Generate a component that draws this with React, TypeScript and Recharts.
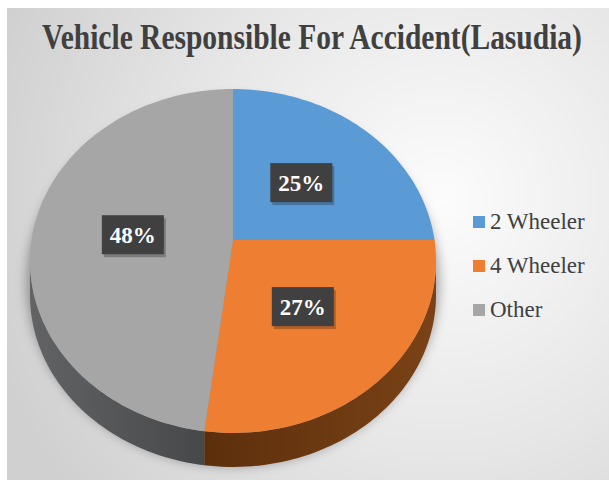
import React from 'react';
import { PieChart, Pie, Cell, Legend } from 'recharts';

const TITLE = 'Vehicle Responsible For Accident(Lasudia)';
const CATEGORIES = ['2 Wheeler', '4 Wheeler', 'Other'];
const VALUES = [25, 27, 48];
const COLORS = ['#5b9bd5', '#ee7e32', '#a6a6a6'];
const SIDE_FROM = ['#3a6f9f', '#7a4216', '#626365'];
const SIDE_TO = ['#2a5580', '#5c2f0c', '#47484a'];

const data = CATEGORIES.map((name, i) => ({ name, value: VALUES[i] }));

const RY = 0.847; // vertical squash of the tilted pie
const T = 0.122; // perspective shift of the centre
const DEPTH = 34;
const SERIF = "'Liberation Serif', 'Times New Roman', serif";

function project(cx: number, cy: number, R: number, angDeg: number, frac: number) {
  const a = (angDeg * Math.PI) / 180;
  const c = frac * Math.cos(a);
  const s = frac * Math.sin(a);
  const d = 1 + T * s;
  const u = (c * Math.sqrt(1 - T * T)) / d;
  const v = (s + T) / d;
  return { x: cx + R * u, y: cy - R * RY * v, v };
}

const PieShape = (props: any) => {
  const { cx, cy, outerRadius, startAngle, endAngle, index } = props;
  const i = index ?? 0;
  const N = Math.max(8, Math.ceil(Math.abs(endAngle - startAngle) / 1.5));
  const pts: { x: number; y: number; v: number }[] = [];
  for (let k = 0; k <= N; k++) {
    const ang = startAngle + ((endAngle - startAngle) * k) / N;
    pts.push(project(cx, cy, outerRadius, ang, 1));
  }
  const c0 = project(cx, cy, outerRadius, 0, 0);
  const top = `M${c0.x},${c0.y} ` + pts.map((p) => `L${p.x},${p.y}`).join(' ') + ' Z';
  const runs: { x: number; y: number; v: number }[][] = [];
  let cur: { x: number; y: number; v: number }[] = [];
  pts.forEach((p) => {
    if (p.v <= 0.01) cur.push(p);
    else if (cur.length) {
      runs.push(cur);
      cur = [];
    }
  });
  if (cur.length) runs.push(cur);
  const sides = runs
    .filter((r) => r.length > 1)
    .map((r) => {
      const fwd = r.map((p, k) => `${k === 0 ? 'M' : 'L'}${p.x},${p.y}`).join(' ');
      const back = r
        .slice()
        .reverse()
        .map((p) => `L${p.x},${p.y + DEPTH}`)
        .join(' ');
      return fwd + ' ' + back + ' Z';
    });
  const gid = `side-grad-${i}`;
  return (
    <g>
      <defs>
        <linearGradient id={gid} x1="0" y1="0" x2="1" y2="0">
          <stop offset="0%" stopColor={i === 2 ? SIDE_FROM[i] : SIDE_TO[i]} />
          <stop offset="100%" stopColor={i === 2 ? SIDE_TO[i] : SIDE_FROM[i]} />
        </linearGradient>
      </defs>
      {sides.map((d, k) => (
        <path key={k} d={d} fill={`url(#${gid})`} stroke="none" />
      ))}
      <path d={top} fill={COLORS[i]} stroke="none" />
    </g>
  );
};

const renderLabel = (props: any) => {
  const { cx, cy, midAngle, outerRadius, percent } = props;
  const p = project(cx, cy, outerRadius, midAngle, 0.5);
  const w = 62;
  const h = 39;
  return (
    <g>
      <rect x={p.x - w / 2 + 2} y={p.y - h / 2 + 3} width={w} height={h} fill="rgba(0,0,0,0.25)" />
      <rect x={p.x - w / 2} y={p.y - h / 2} width={w} height={h} fill="#404040" />
      <text
        x={p.x}
        y={p.y + 8}
        textAnchor="middle"
        fill="#ffffff"
        fontFamily="Liberation Serif"
        fontWeight="bold"
        fontSize={23}
        style={{ fontFamily: 'Liberation Serif', fontWeight: 'bold', fontSize: 23 }}
      >
        {Math.round(percent * 100) + '%'}
      </text>
    </g>
  );
};

const renderLegend = (props: any) => {
  const { payload } = props;
  return (
    <div style={{ fontFamily: SERIF }}>
      {(payload || []).map((e: any, k: number) => (
        <div key={k} style={{ display: 'flex', alignItems: 'center', height: 44 }}>
          <div style={{ width: 12, height: 12, background: COLORS[k], marginRight: 5, flex: 'none' }} />
          <span style={{ fontSize: 23, color: '#404040', whiteSpace: 'nowrap' }}>{e.value}</span>
        </div>
      ))}
    </div>
  );
};

export default function App() {
  return (
    <div style={{ position: 'absolute', left: 0, top: 0, width: 609, height: 492, background: '#ffffff' }}>
      <svg width={609} height={492} style={{ position: 'absolute', left: 0, top: 0 }}>
        <defs>
          <radialGradient id="bg" gradientUnits="userSpaceOnUse" cx="440" cy="200" r="470">
            <stop offset="0%" stopColor="#fcfcfc" />
            <stop offset="55%" stopColor="#e6e6e6" />
            <stop offset="100%" stopColor="#d0d0d0" />
          </radialGradient>
          <filter id="blur" x="-20%" y="-20%" width="140%" height="140%">
            <feGaussianBlur stdDeviation="6" />
          </filter>
        </defs>
        <rect x={7} y={8} width={602} height={472} fill="url(#bg)" />
        <g transform="translate(312,49) scale(1,1.22)">
          <text
            x={0}
            y={0}
            textAnchor="middle"
            style={{ fontFamily: SERIF, fontWeight: 'bold', fontSize: 29.5 }}
            fill="#404040"
          >
            {TITLE}
          </text>
        </g>
        <ellipse cx={233} cy={282} rx={206} ry={184} fill="rgba(0,0,0,0.35)" filter="url(#blur)" />
      </svg>
      <div style={{ position: 'absolute', left: 0, top: 0 }}>
        <PieChart width={609} height={492} margin={{ top: 0, right: 0, bottom: 0, left: 0 }}>
          <Pie
            data={data}
            dataKey="value"
            nameKey="name"
            cx={233}
            cy={261}
            outerRadius={203}
            startAngle={90}
            endAngle={-270}
            stroke="none"
            isAnimationActive={false}
            shape={PieShape}
            inactiveShape={PieShape}
            activeShape={PieShape}
            label={renderLabel}
            labelLine={false}
          >
            {data.map((d, i) => (
              <Cell key={d.name} fill={COLORS[i]} />
            ))}
          </Pie>
          <Legend
            layout="vertical"
            verticalAlign="top"
            align="right"
            content={renderLegend}
            wrapperStyle={{ left: 473, top: 200, width: 136, right: 'auto' }}
          />
        </PieChart>
      </div>
    </div>
  );
}
